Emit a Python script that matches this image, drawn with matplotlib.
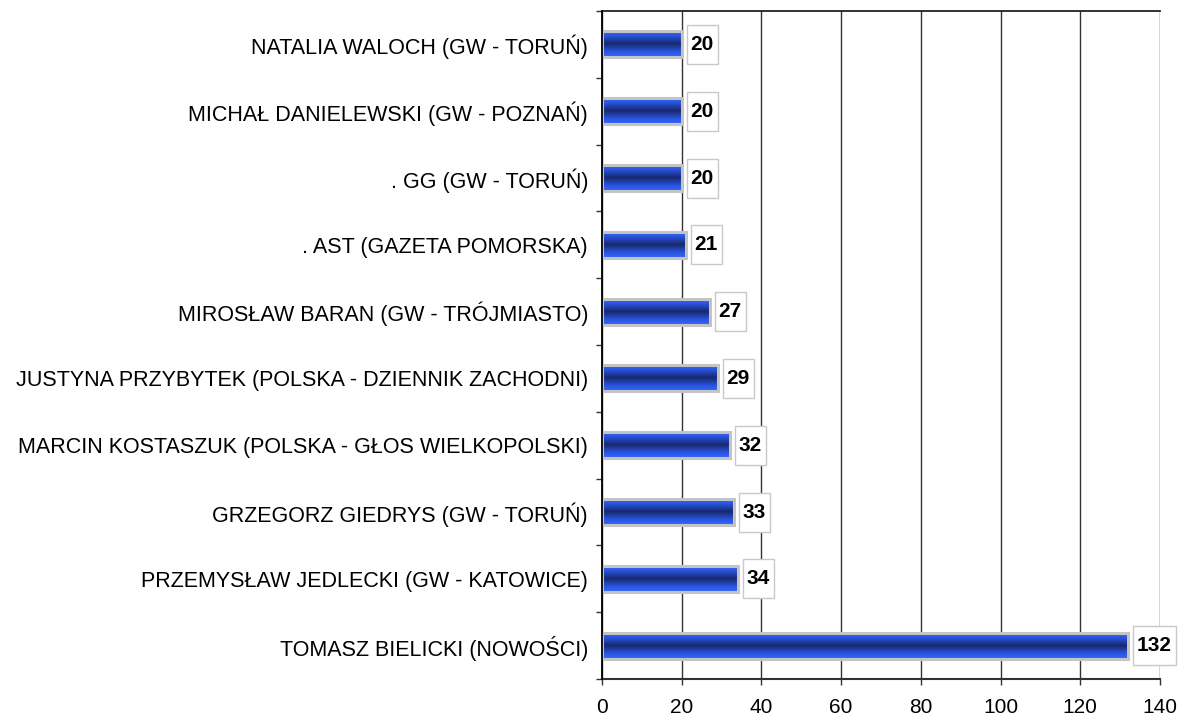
import matplotlib.pyplot as plt
import numpy as np
from matplotlib.colors import LinearSegmentedColormap
from matplotlib.patches import Rectangle
from matplotlib.transforms import ScaledTranslation

names = [
    "NATALIA WALOCH (GW - TORUŃ)",
    "MICHAŁ DANIELEWSKI (GW - POZNAŃ)",
    ". GG (GW - TORUŃ)",
    ". AST (GAZETA POMORSKA)",
    "MIROSŁAW BARAN (GW - TRÓJMIASTO)",
    "JUSTYNA PRZYBYTEK (POLSKA - DZIENNIK ZACHODNI)",
    "MARCIN KOSTASZUK (POLSKA - GŁOS WIELKOPOLSKI)",
    "GRZEGORZ GIEDRYS (GW - TORUŃ)",
    "PRZEMYSŁAW JEDLECKI (GW - KATOWICE)",
    "TOMASZ BIELICKI (NOWOŚCI)",
]
values = [20, 20, 20, 21, 27, 29, 32, 33, 34, 132]
xticks = [0, 20, 40, 60, 80, 100, 120, 140]

plt.rcParams['font.family'] = ['Liberation Sans', 'DejaVu Sans']

fig = plt.figure(figsize=(11.89, 7.2), dpi=100)
ax = fig.add_axes([0.5063, 0.0569, 0.4693, 0.9278])

cmap = LinearSegmentedColormap.from_list(
    "bar", [(0, "#3468ff"), (0.2, "#2a55e0"), (0.5, "#18286e"), (0.8, "#2a55e0"), (1, "#3468ff")])
grad = np.linspace(0, 1, 100).reshape(-1, 1)

h = 0.39
ys = np.arange(len(names))
for y, v in zip(ys, values):
    ax.imshow(grad, cmap=cmap, aspect='auto', extent=[0, v, y + h / 2, y - h / 2],
              zorder=3, interpolation='bilinear')
ax.barh(ys, values, height=h, facecolor='none', edgecolor='#c4c4c4', linewidth=2.2, zorder=4)

# value labels in white boxes just right of each bar
for y, v in zip(ys, values):
    s = str(v)
    w = len(s) * 11.6 + 8   # px
    bh = 39                 # px
    off = fig.dpi_scale_trans + ScaledTranslation(v, y, ax.transData)
    ax.add_patch(Rectangle((5 / 100, -bh / 200), w / 100, bh / 100, transform=off,
                           fc='white', ec='#c8c8c8', lw=1, zorder=5, clip_on=False))
    ax.text((5 + w / 2) / 100, 0, s, transform=off, ha='center', va='center',
            fontsize=15, fontweight='bold', zorder=6)

ax.set_xlim(0, 140)
ax.set_ylim(len(names) - 0.5, -0.5)
ax.set_xticks(xticks)
ax.tick_params(axis='x', labelsize=15, length=4.5, width=1, pad=9, color='#333333')
ax.xaxis.grid(True, color='#333333', linewidth=1, zorder=0)

ax.set_yticks(np.arange(len(names) + 1) - 0.5)
ax.set_yticklabels([])
ax.tick_params(axis='y', which='major', length=4.5, width=1, color='#333333')
ax.set_yticks(ys, minor=True)
ax.set_yticklabels(names, minor=True, fontsize=15.5)
ax.tick_params(axis='y', which='minor', length=0, pad=10)

ax.spines['left'].set_color('black')
ax.spines['left'].set_linewidth(1.3)
ax.spines['left'].set_zorder(7)
ax.spines['bottom'].set_color('#333333')
ax.spines['bottom'].set_linewidth(1.5)
ax.spines['top'].set_color('#222222')
ax.spines['top'].set_linewidth(1.3)
ax.spines['right'].set_visible(False)
ax.set_axisbelow(True)

fig.savefig("out.png", dpi=100)
